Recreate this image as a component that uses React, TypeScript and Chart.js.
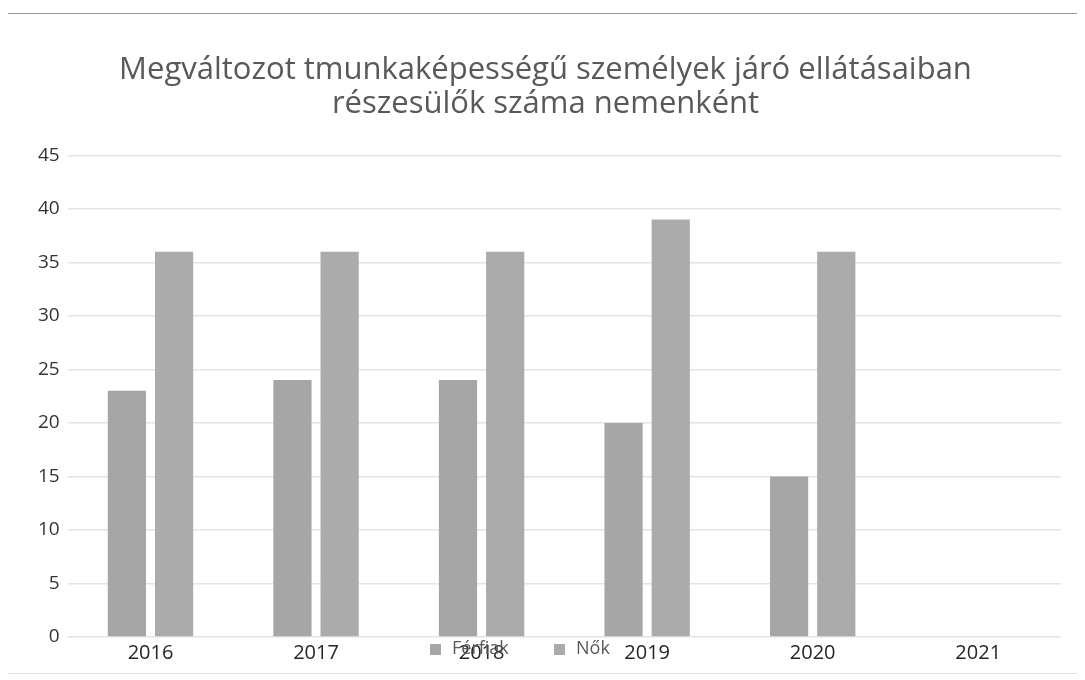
import React, { useEffect, useRef } from "react";
import { Chart, registerables } from "chart.js";

Chart.register(...registerables);

const titleLines = [
  "Megváltozot tmunkaképességű személyek járó ellátásaiban",
  "részesülők száma nemenként",
];
const categories = ["2016", "2017", "2018", "2019", "2020", "2021"];
const seriesNames = ["Férfiak", "Nők"];
const ferfiak = [23, 24, 24, 20, 15, null];
const nok = [36, 36, 36, 39, 36, null];
const yTicks = [0, 5, 10, 15, 20, 25, 30, 35, 40, 45];

const FONT = "'Open Sans', 'Liberation Sans', sans-serif";

const bottomLegend = {
  id: "bottomLegend",
  afterDraw(chart: any) {
    const ctx = chart.ctx;
    const ds = chart.data.datasets;
    const xs = [422, 546];
    const y = 635;
    ctx.save();
    ctx.font = `18px ${FONT}`;
    ctx.textBaseline = "middle";
    ctx.textAlign = "left";
    ds.forEach((d: any, i: number) => {
      ctx.fillStyle = d.backgroundColor;
      ctx.fillRect(xs[i], y - 5, 11, 11);
      ctx.fillStyle = "#595959";
      ctx.fillText(d.label, xs[i] + 22, y);
    });
    ctx.restore();
  },
};

export default function App() {
  const ref = useRef<HTMLCanvasElement>(null);
  useEffect(() => {
    if (!ref.current) return;
    const chart = new Chart(ref.current, {
      type: "bar",
      data: {
        labels: categories,
        datasets: [
          { label: seriesNames[0], data: ferfiak as any, backgroundColor: "#a6a6a6" },
          { label: seriesNames[1], data: nok as any, backgroundColor: "#ababab" },
        ],
      },
      plugins: [bottomLegend],
      options: {
        animation: false,
        responsive: true,
        maintainAspectRatio: false,
        layout: { padding: { top: 40, left: 22, right: 25, bottom: 4 } },
        datasets: {
          bar: { categoryPercentage: 0.57, barPercentage: 0.81 },
        },
        plugins: {
          legend: { display: false },
          tooltip: { enabled: false },
          title: {
            display: true,
            text: titleLines,
            color: "#595959",
            font: { family: FONT, size: 31, weight: "normal" as any, lineHeight: 1.07 },
            padding: { top: 0, bottom: 35 },
          },
        },
        scales: {
          x: {
            grid: { display: false, drawTicks: false },
            border: { display: false },
            ticks: {
              color: "#262626",
              font: { family: FONT, size: 20 },
              padding: 4,
            },
          },
          y: {
            min: 0,
            max: 45,
            afterBuildTicks: (axis: any) => {
              axis.ticks = yTicks.map((v) => ({ value: v }));
            },
            grid: { color: "#e4e4e4", drawTicks: false, lineWidth: 1.5 },
            border: { display: false },
            ticks: {
              color: "#333333",
              font: { family: FONT, size: 19 },
              padding: 8,
            },
          },
        },
      },
    });
    return () => chart.destroy();
  }, []);
  return (
    <div
      style={{
        position: "relative",
        margin: "5px 0 0 -1px",
        width: 1078,
        height: 659,
        borderTop: "1px solid #9a9a9a",
        borderLeft: "1px solid #9a9a9a",
        borderBottom: "1px solid #e0e0e0",
        background: "#fff",
      }}
    >
      <canvas ref={ref} />
    </div>
  );
}
